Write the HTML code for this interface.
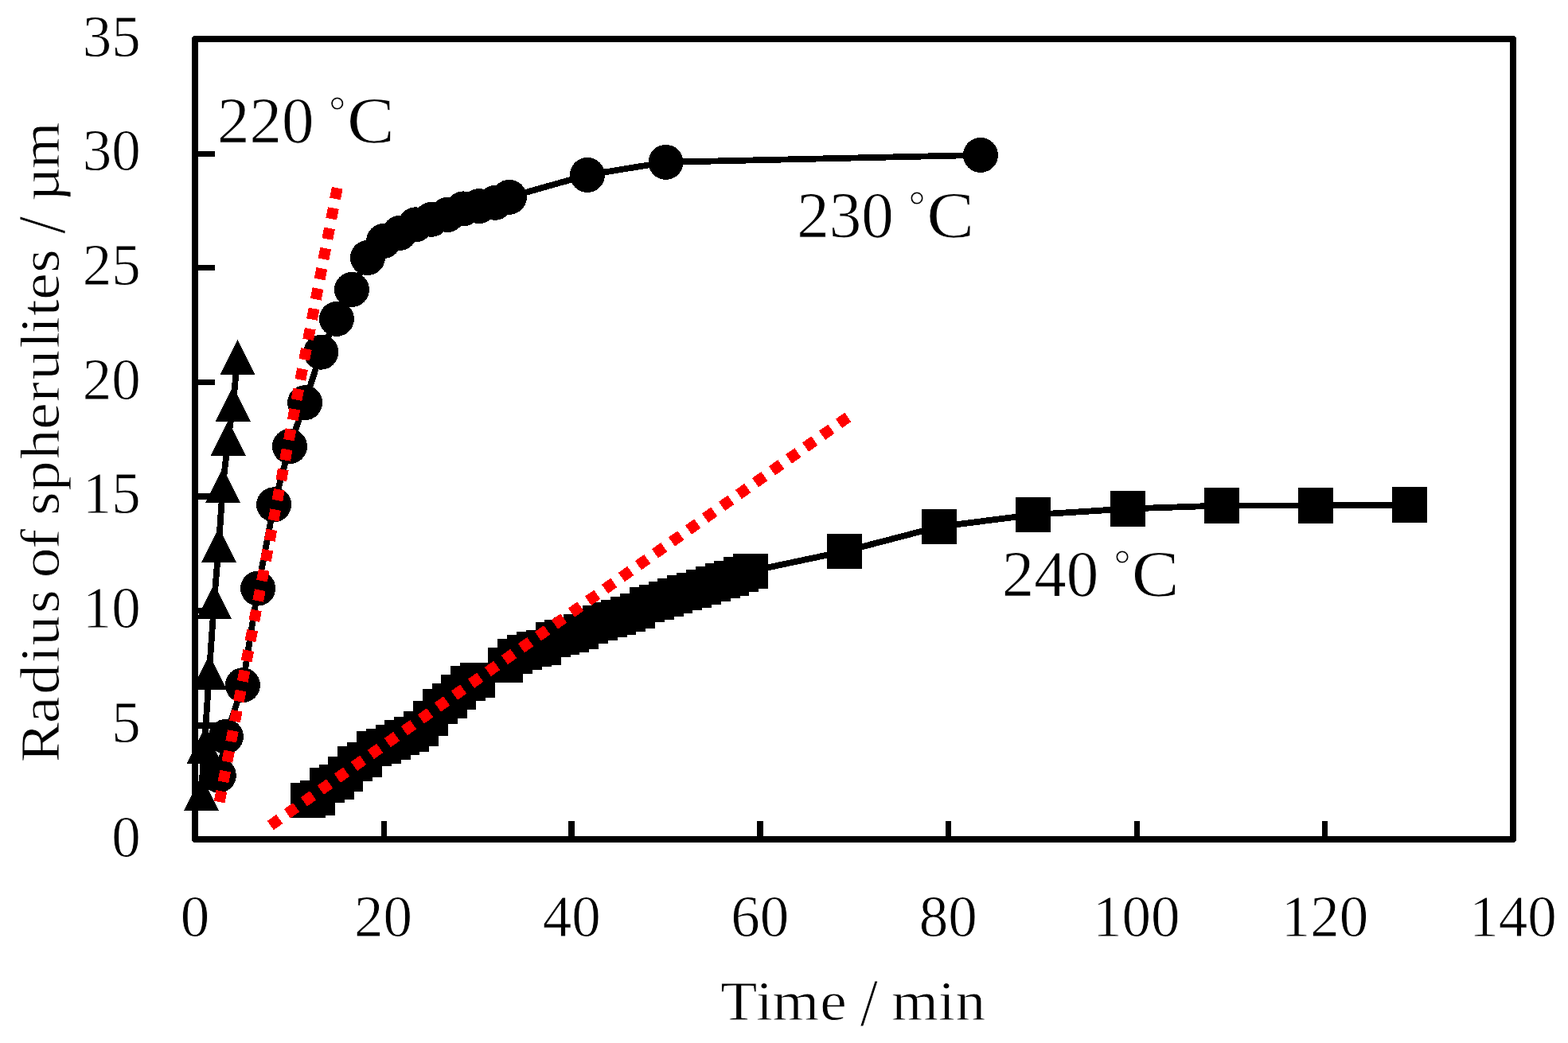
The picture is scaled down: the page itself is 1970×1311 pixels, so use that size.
<!DOCTYPE html>
<html lang="en"><head><meta charset="utf-8"><title>Radius of spherulites vs time</title>
<style>
html,body{margin:0;padding:0;background:#fff;}
body{width:1970px;height:1311px;overflow:hidden;}
svg{display:block;font-family:"Liberation Serif","DejaVu Serif",serif;}
.s{shape-rendering:crispEdges;}
.ln{fill:none;stroke:#000;stroke-width:7.8;stroke-linejoin:round;}
.tk{stroke:#000;stroke-width:7;}
text{stroke:#fff;stroke-width:0.8px;}
.tl{font-size:73px;fill:#000;}
.lb{font-size:80px;fill:#000;}
.at{font-size:70.5px;fill:#000;}
.red{stroke:#ff0000;fill:none;}
</style></head><body>
<svg width="1970" height="1311" viewBox="0 0 1970 1311">
<rect width="1970" height="1311" fill="#ffffff"/>
<g class="s">
<rect x="245" y="49" width="1656" height="1006" fill="none" stroke="#000" stroke-width="8" stroke-linejoin="round"/>
<rect x="479" y="1032" width="7" height="21"/>
<rect x="714" y="1032" width="8" height="21"/>
<rect x="951" y="1032" width="8" height="21"/>
<rect x="1188" y="1032" width="7" height="21"/>
<rect x="1425" y="1032" width="7" height="21"/>
<rect x="1661" y="1032" width="7" height="21"/>
<rect x="247" y="190" width="23" height="7"/>
<rect x="247" y="333" width="23" height="7"/>
<rect x="247" y="477" width="23" height="7"/>
<rect x="247" y="620" width="23" height="8"/>
<rect x="247" y="764" width="23" height="7"/>
<rect x="247" y="908" width="23" height="8"/>
<polyline class="ln" points="252.9,996.8 256.8,937.9 262.9,844.8 269.1,755.8 274.9,684.8 280,609.7 286.8,550.7 292.9,507.7 298.4,449"/>
<polygon points="252.9,974.8 274.9,1018.8 230.9,1018.8"/>
<polygon points="256.8,915.9 278.8,959.9 234.8,959.9"/>
<polygon points="262.9,822.8 284.9,866.8 240.9,866.8"/>
<polygon points="269.1,733.8 291.1,777.8 247.1,777.8"/>
<polygon points="274.9,662.8 296.9,706.8 252.9,706.8"/>
<polygon points="280,587.7 302,631.7 258,631.7"/>
<polygon points="286.8,528.7 308.8,572.7 264.8,572.7"/>
<polygon points="292.9,485.7 314.9,529.7 270.9,529.7"/>
<polygon points="298.4,427 320.4,471 276.4,471"/>
<polyline class="ln" points="274.8,974.6 283.9,925.8 304.9,861.2 324.1,739.6 344.1,634.3 364,561.1 383.1,506.2 403.3,442.7 422.9,400.9 442,364 461.9,324 482.1,302.9 502.1,292.9 522.1,282.3 542.1,275.8 562.1,270 582,262.4 602,259.1 622,254.8 639.9,247.8 737.95,219.95 836.5,203.9 1231.95,194.9"/>
<circle cx="274.8" cy="974.6" r="22"/>
<circle cx="283.9" cy="925.8" r="22"/>
<circle cx="304.9" cy="861.2" r="22"/>
<circle cx="324.1" cy="739.6" r="22"/>
<circle cx="344.1" cy="634.3" r="22"/>
<circle cx="364" cy="561.1" r="22"/>
<circle cx="383.1" cy="506.2" r="22"/>
<circle cx="403.3" cy="442.7" r="22"/>
<circle cx="422.9" cy="400.9" r="22"/>
<circle cx="442" cy="364" r="22"/>
<circle cx="461.9" cy="324" r="22"/>
<circle cx="482.1" cy="302.9" r="22"/>
<circle cx="502.1" cy="292.9" r="22"/>
<circle cx="522.1" cy="282.3" r="22"/>
<circle cx="542.1" cy="275.8" r="22"/>
<circle cx="562.1" cy="270" r="22"/>
<circle cx="582" cy="262.4" r="22"/>
<circle cx="602" cy="259.1" r="22"/>
<circle cx="622" cy="254.8" r="22"/>
<circle cx="639.9" cy="247.8" r="22"/>
<circle cx="737.95" cy="219.95" r="22"/>
<circle cx="836.5" cy="203.9" r="22"/>
<circle cx="1231.95" cy="194.9" r="22"/>
<polyline class="ln" points="387.06,1006.1 398.89,1003 410.72,987.3 422.55,983.1 434.38,973 446.21,960.1 458.04,955 469.87,941.1 481.7,937.9 493.53,932.9 505.36,927.3 517.19,923.2 529.02,916.3 540.85,903.3 552.68,888.1 564.51,881.2 576.34,870.2 588.17,859.1 600,855.2 635.49,836.2 647.32,825.2 659.15,820.2 670.98,815.9 682.81,814 694.64,804.1 706.47,801.1 718.3,797.9 730.13,793.9 741.96,786.9 753.79,783.3 765.62,779.2 777.45,775.8 789.28,771.9 801.11,767.9 812.94,760.1 824.77,756.9 836.6,753 848.43,749 860.26,744.9 872.09,742 883.92,737.8 895.75,733.7 907.58,729.9 919.41,726.9 931.24,722 943.07,718 1061,693 1180,662 1298,647 1417,639.5 1535,635.5 1653,635.5 1771,634.5"/>
<rect x="365.06" y="984.1" width="44" height="44"/>
<rect x="376.89" y="981" width="44" height="44"/>
<rect x="388.72" y="965.3" width="44" height="44"/>
<rect x="400.55" y="961.1" width="44" height="44"/>
<rect x="412.38" y="951" width="44" height="44"/>
<rect x="424.21" y="938.1" width="44" height="44"/>
<rect x="436.04" y="933" width="44" height="44"/>
<rect x="447.87" y="919.1" width="44" height="44"/>
<rect x="459.7" y="915.9" width="44" height="44"/>
<rect x="471.53" y="910.9" width="44" height="44"/>
<rect x="483.36" y="905.3" width="44" height="44"/>
<rect x="495.19" y="901.2" width="44" height="44"/>
<rect x="507.02" y="894.3" width="44" height="44"/>
<rect x="518.85" y="881.3" width="44" height="44"/>
<rect x="530.68" y="866.1" width="44" height="44"/>
<rect x="542.51" y="859.2" width="44" height="44"/>
<rect x="554.34" y="848.2" width="44" height="44"/>
<rect x="566.17" y="837.1" width="44" height="44"/>
<rect x="578" y="833.2" width="44" height="44"/>
<rect x="613.49" y="814.2" width="44" height="44"/>
<rect x="625.32" y="803.2" width="44" height="44"/>
<rect x="637.15" y="798.2" width="44" height="44"/>
<rect x="648.98" y="793.9" width="44" height="44"/>
<rect x="660.81" y="792" width="44" height="44"/>
<rect x="672.64" y="782.1" width="44" height="44"/>
<rect x="684.47" y="779.1" width="44" height="44"/>
<rect x="696.3" y="775.9" width="44" height="44"/>
<rect x="708.13" y="771.9" width="44" height="44"/>
<rect x="719.96" y="764.9" width="44" height="44"/>
<rect x="731.79" y="761.3" width="44" height="44"/>
<rect x="743.62" y="757.2" width="44" height="44"/>
<rect x="755.45" y="753.8" width="44" height="44"/>
<rect x="767.28" y="749.9" width="44" height="44"/>
<rect x="779.11" y="745.9" width="44" height="44"/>
<rect x="790.94" y="738.1" width="44" height="44"/>
<rect x="802.77" y="734.9" width="44" height="44"/>
<rect x="814.6" y="731" width="44" height="44"/>
<rect x="826.43" y="727" width="44" height="44"/>
<rect x="838.26" y="722.9" width="44" height="44"/>
<rect x="850.09" y="720" width="44" height="44"/>
<rect x="861.92" y="715.8" width="44" height="44"/>
<rect x="873.75" y="711.7" width="44" height="44"/>
<rect x="885.58" y="707.9" width="44" height="44"/>
<rect x="897.41" y="704.9" width="44" height="44"/>
<rect x="909.24" y="700" width="44" height="44"/>
<rect x="921.07" y="696" width="44" height="44"/>
<rect x="1039" y="671" width="44" height="44"/>
<rect x="1158" y="640" width="44" height="44"/>
<rect x="1276" y="625" width="44" height="44"/>
<rect x="1395" y="617" width="44" height="45"/>
<rect x="1513" y="613" width="44" height="45"/>
<rect x="1631" y="613" width="44" height="45"/>
<rect x="1749" y="612" width="44" height="45"/>
<line class="red" x1="275.69" y1="1008.03" x2="423.71" y2="236.17" stroke-width="13.9" stroke-dasharray="13.9 11.83"/>
<line class="red" x1="339.83" y1="1037.61" x2="1065.27" y2="524.39" stroke-width="13.9" stroke-dasharray="13.9 11.83"/>
</g>
<text class="tl" transform="translate(245 1176.6) scale(1 1.01)" text-anchor="middle">0</text>
<text class="tl" transform="translate(481.57 1176.6) scale(1 1.01)" text-anchor="middle">20</text>
<text class="tl" transform="translate(718.14 1176.6) scale(1 1.01)" text-anchor="middle">40</text>
<text class="tl" transform="translate(954.71 1176.6) scale(1 1.01)" text-anchor="middle">60</text>
<text class="tl" transform="translate(1191.29 1176.6) scale(1 1.01)" text-anchor="middle">80</text>
<text class="tl" transform="translate(1427.86 1176.6) scale(1 1.01)" text-anchor="middle">100</text>
<text class="tl" transform="translate(1664.43 1176.6) scale(1 1.01)" text-anchor="middle">120</text>
<text class="tl" transform="translate(1901 1176.6) scale(1 1.01)" text-anchor="middle">140</text>
<text class="tl" transform="translate(176.8 1076.5) scale(1 1.01)" text-anchor="end">0</text>
<text class="tl" transform="translate(176.8 932.79) scale(1 1.01)" text-anchor="end">5</text>
<text class="tl" transform="translate(176.8 789.07) scale(1 1.01)" text-anchor="end">10</text>
<text class="tl" transform="translate(176.8 645.36) scale(1 1.01)" text-anchor="end">15</text>
<text class="tl" transform="translate(176.8 501.64) scale(1 1.01)" text-anchor="end">20</text>
<text class="tl" transform="translate(176.8 357.93) scale(1 1.01)" text-anchor="end">25</text>
<text class="tl" transform="translate(176.8 214.21) scale(1 1.01)" text-anchor="end">30</text>
<text class="tl" transform="translate(176.8 70.5) scale(1 1.01)" text-anchor="end">35</text>
<text class="lb" transform="translate(273 179.4) scale(1.013 1.035)" x="0" y="0">220 <tspan x="138.4" y="-21.93" font-size="52">°</tspan><tspan x="160.91" y="0" textLength="59" lengthAdjust="spacingAndGlyphs">C</tspan></text>
<text class="lb" transform="translate(1001.3 298.1) scale(1.013 1.035)" x="0" y="0">230 <tspan x="138.4" y="-21.16" font-size="52">°</tspan><tspan x="160.91" y="0" textLength="59" lengthAdjust="spacingAndGlyphs">C</tspan></text>
<text class="lb" transform="translate(1258.8 748.9) scale(1.013 1.035)" x="0" y="0">240 <tspan x="138.89" y="-21.35" font-size="52">°</tspan><tspan x="160.91" y="0" textLength="59" lengthAdjust="spacingAndGlyphs">C</tspan></text>
<text class="at" transform="translate(0 1282) scale(1.07 1.0)" y="0"><tspan x="846.14 887.75 907.02 962.8 994.52">Time </tspan><tspan x="1010.09" y="6.6" font-size="83.89" textLength="20.68" lengthAdjust="spacingAndGlyphs">/</tspan><tspan y="0" x="1029.44 1047.06 1101.77 1121.87"> min</tspan></text>
<text class="at" transform="translate(74.3 0) rotate(-90) scale(1.07 1.0)" y="0"><tspan x="-895.5 -849.53 -815.62 -778.55 -758.38 -720.29 -688.57 -678.75 -644.97 -613.25 -605.43 -576.63 -539.47 -504.45 -472.09 -446.27 -409.23 -391.5 -371.24 -352.16 -320.29 -288.57">Radius of spherulites </tspan><tspan x="-274.49" y="6.7" font-size="83.89" textLength="20.32" lengthAdjust="spacingAndGlyphs">/</tspan><tspan y="0" x="-254.27 -236.65 -198.08"> µm</tspan></text>
</svg>
</body></html>
